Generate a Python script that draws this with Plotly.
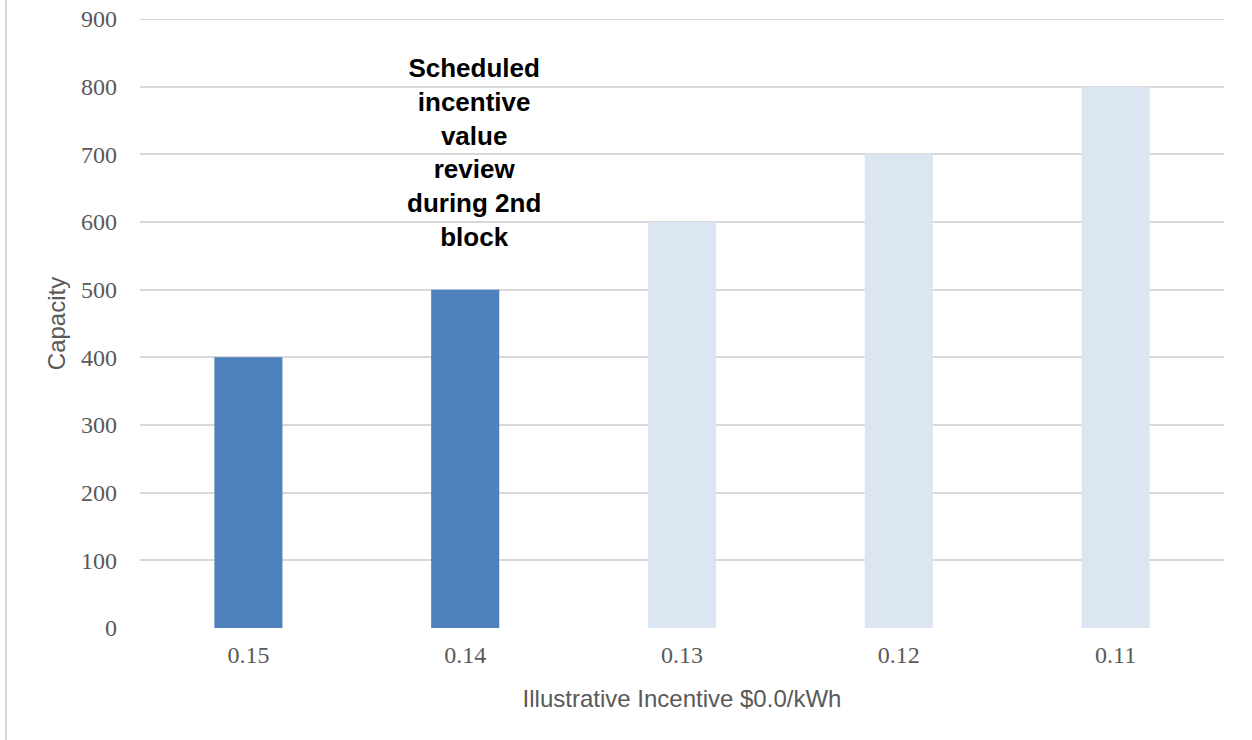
import plotly.graph_objects as go

# Incentive blocks and installed capacity for each block
incentives = ["0.15", "0.14", "0.13", "0.12", "0.11"]
capacity = [400, 500, 600, 700, 800]
# First two blocks are active; later blocks are shown faded
active = [True, True, False, False, False]
y_ticks = list(range(0, 901, 100))

ACTIVE_COLOR = "#4F81BD"
FADED_COLOR = "#DCE6F2"
GRID = "#D9D9D9"
TEXT = "#595959"

W, H = 1252, 740
ML, MR, MT, MB = 140, 28, 19, 112

fig = go.Figure(
    go.Bar(
        x=incentives,
        y=capacity,
        marker=dict(color=[ACTIVE_COLOR if a else FADED_COLOR for a in active], line=dict(width=0)),
        hoverinfo="x+y",
    )
)

plot_w = W - ML - MR
plot_h = H - MT - MB

fig.update_layout(
    width=W,
    height=H,
    margin=dict(l=ML, r=MR, t=MT, b=MB, autoexpand=False),
    paper_bgcolor="white",
    plot_bgcolor="white",
    bargap=0.686,
    showlegend=False,
    font=dict(family="Liberation Sans, Arial, sans-serif", color=TEXT),
    xaxis=dict(
        type="category",
        automargin=False,
        showgrid=False,
        showline=False,
        zeroline=False,
        tickfont=dict(family="Liberation Serif, serif", size=24, color=TEXT),
        ticks="",
        ticklabelstandoff=10,
        title=dict(
            text="Illustrative Incentive $0.0/kWh",
            font=dict(family="Liberation Sans, Arial, sans-serif", size=24, color=TEXT),
            standoff=23,
        ),
    ),
    yaxis=dict(
        range=[0, 900],
        tickvals=y_ticks,
        automargin=False,
        showgrid=True,
        gridcolor=GRID,
        gridwidth=2,
        zeroline=False,
        showline=False,
        ticks="",
        tickfont=dict(family="Liberation Serif, serif", size=24, color=TEXT),
        ticklabelstandoff=22,
        title=dict(
            text="Capacity",
            font=dict(family="Liberation Sans, Arial, sans-serif", size=24, color=TEXT),
            standoff=8,
        ),
    ),
    annotations=[
        dict(
            x=incentives.index("0.14"),
            y=702,
            xref="x",
            yref="y",
            xshift=9,
            text="<b>Scheduled<br>incentive<br>value<br>review<br>during 2nd<br>block</b>",
            showarrow=False,
            align="center",
            xanchor="center",
            yanchor="middle",
            font=dict(family="Liberation Sans, Arial, sans-serif", size=26, color="black"),
        )
    ],
    shapes=[
        # gridline along the top edge of the value range
        dict(
            type="line",
            xref="paper",
            yref="y",
            x0=0,
            x1=1,
            y0=y_ticks[-1],
            y1=y_ticks[-1],
            line=dict(color=GRID, width=2),
            layer="below",
        ),
        # thin frame edge on the left of the chart area
        dict(
            type="line",
            xref="paper",
            yref="paper",
            x0=(6 - ML) / plot_w,
            x1=(6 - ML) / plot_w,
            y0=-MB / plot_h,
            y1=1 + MT / plot_h,
            line=dict(color=GRID, width=2),
        ),
    ],
)

fig.write_html("out.html")
